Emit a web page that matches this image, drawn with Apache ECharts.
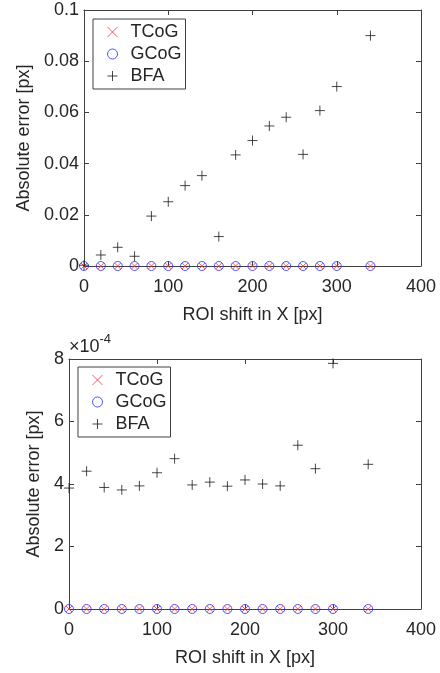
<!DOCTYPE html>
<html>
<head>
<meta charset="UTF-8">
<title></title>
<script src="https://cdn.jsdelivr.net/npm/echarts@6/dist/echarts.min.js"></script>
<style>
  html, body { margin: 0; padding: 0; background: #fff; }
</style>
</head>
<body>
<div id="main" style="width:440px;height:673px;"></div>
<script type="text/javascript">
// ROI shift in X [px]
var shiftX = [0, 20, 40, 60, 80, 100, 120, 140, 160, 180, 200, 220, 240, 260, 280, 300, 340];
// top panel: absolute error [px]
var tcogTop = [0, 0, 0, 0, 0, 0, 0, 0, 0, 0, 0, 0, 0, 0, 0, 0, 0];
var gcogTop = [0, 0, 0, 0, 0, 0, 0, 0, 0, 0, 0, 0, 0, 0, 0, 0, 0];
var bfaTop = [0.0003, 0.0043, 0.0073, 0.0038, 0.0195, 0.0251, 0.0314, 0.0353, 0.0115,
              0.0434, 0.049, 0.0547, 0.0581, 0.0436, 0.0607, 0.0701, 0.09];
// bottom panel: absolute error in units of 1e-4 px
var tcogBot = [0, 0, 0, 0, 0, 0, 0, 0, 0, 0, 0, 0, 0, 0, 0, 0, 0];
var gcogBot = [0, 0, 0, 0, 0, 0, 0, 0, 0, 0, 0, 0, 0, 0, 0, 0, 0];
var bfaBot = [3.87, 4.41, 3.89, 3.81, 3.94, 4.36, 4.81, 3.97, 4.06, 3.93, 4.13, 4.0, 3.94,
              5.24, 4.49, 7.86, 4.63];

var txt = '#262626';
var axc = '#404040';
var fnt = 'Liberation Sans, Arial, sans-serif';

var crossPath = 'path://M0,0L10,10M10,0L0,10';
var plusPath = 'path://M5,0L5,10M0,5L10,5';

function pairs(xs, ys) {
  var out = [];
  for (var i = 0; i < xs.length; i++) out.push([xs[i], ys[i]]);
  return out;
}

function xAxes(grid) {
  return [{
    gridIndex: grid, type: 'value', min: 0, max: 400, interval: 100,
    name: 'ROI shift in X [px]', nameLocation: 'middle', nameGap: 40,
    nameTextStyle: { color: txt, fontSize: 18, fontFamily: fnt },
    axisLine: { onZero: false, lineStyle: { color: axc, width: 1 } },
    axisTick: { inside: true, length: 5, lineStyle: { color: axc } },
    axisLabel: { color: txt, fontSize: 18, fontFamily: fnt, margin: 12 },
    splitLine: { show: false }
  }, {
    gridIndex: grid, type: 'value', min: 0, max: 400, interval: 100, position: 'top',
    axisLine: { onZero: false, lineStyle: { color: axc, width: 1 } },
    axisTick: { inside: true, length: 5, lineStyle: { color: axc } },
    axisLabel: { show: false },
    splitLine: { show: false }
  }];
}

function yAxes(grid, max, step, gap, fmt) {
  return [{
    gridIndex: grid, type: 'value', min: 0, max: max, interval: step,
    name: 'Absolute error [px]', nameLocation: 'middle', nameGap: gap,
    nameTextStyle: { color: txt, fontSize: 18, fontFamily: fnt },
    axisLine: { show: true, onZero: false, lineStyle: { color: axc, width: 1 } },
    axisTick: { show: true, inside: true, length: 5, lineStyle: { color: axc } },
    axisLabel: { color: txt, fontSize: 18, fontFamily: fnt, margin: 5, formatter: fmt },
    splitLine: { show: false }
  }, {
    gridIndex: grid, type: 'value', min: 0, max: max, interval: step, position: 'right',
    axisLine: { show: true, onZero: false, lineStyle: { color: axc, width: 1 } },
    axisTick: { show: true, inside: true, length: 5, lineStyle: { color: axc } },
    axisLabel: { show: false },
    splitLine: { show: false }
  }];
}

function series(axisIdx, t, g, b) {
  return [{
    name: 'TCoG', type: 'scatter', xAxisIndex: axisIdx, yAxisIndex: axisIdx, clip: false,
    symbol: crossPath, symbolSize: 6, z: 4,
    itemStyle: { color: 'none', borderColor: '#ff3030', borderWidth: 1 },
    data: pairs(shiftX, t)
  }, {
    name: 'GCoG', type: 'scatter', xAxisIndex: axisIdx, yAxisIndex: axisIdx, clip: false,
    symbol: 'circle', symbolSize: 9, z: 3,
    itemStyle: { color: 'none', borderColor: '#2a2aff', borderWidth: 1 },
    data: pairs(shiftX, g)
  }, {
    name: 'BFA', type: 'scatter', xAxisIndex: axisIdx, yAxisIndex: axisIdx, clip: false,
    symbol: plusPath, symbolSize: 10, z: 5,
    itemStyle: { color: 'none', borderColor: '#1a1a1a', borderWidth: 1 },
    data: pairs(shiftX, b)
  }];
}

function legendAt(left, top) {
  return {
    orient: 'vertical', left: left, top: top,
    backgroundColor: '#fff', borderColor: axc, borderWidth: 1,
    padding: [4, 4, 4, 12], itemGap: 4, itemWidth: 10, itemHeight: 10,
    textStyle: { color: txt, fontSize: 18, fontFamily: fnt, padding: [0, 0, 0, 8] },
    data: [
      { name: 'TCoG', icon: crossPath, itemStyle: { color: 'none', borderColor: '#ff3030', borderWidth: 1 } },
      { name: 'GCoG', icon: 'circle', itemStyle: { color: 'none', borderColor: '#2a2aff', borderWidth: 1 } },
      { name: 'BFA', icon: plusPath, itemStyle: { color: 'none', borderColor: '#1a1a1a', borderWidth: 1 } }
    ],
    selectedMode: false
  };
}

var myChart = echarts.init(document.getElementById('main'));
// each grid has a pair of x axes (bottom, top) and y axes (left, right) to close the box
var xa = xAxes(0).concat(xAxes(1));
var ya = yAxes(0, 0.1, 0.02, 49, function (v) { return String(+v.toFixed(2)); })
  .concat(yAxes(1, 8, 2, 19, function (v) { return String(Math.round(v)); }));

myChart.setOption({
  animation: false,
  backgroundColor: '#fff',
  grid: [
    { left: 84, right: 19, top: 10, height: 256 },
    { left: 69, right: 19, top: 359, height: 250 }
  ],
  legend: [legendAt(93, 19), legendAt(78, 367)],
  xAxis: xa,
  yAxis: ya,
  series: series(0, tcogTop, gcogTop, bfaTop).concat(series(2, tcogBot, gcogBot, bfaBot)),
  graphic: [{
    type: 'text', left: 69, top: 333,
    style: {
      text: '{a|×10}{b|-4}',
      rich: {
        a: { fontSize: 18, fill: txt, fontFamily: fnt, verticalAlign: 'bottom' },
        b: { fontSize: 13, fill: txt, fontFamily: fnt, verticalAlign: 'top', padding: [0, 0, 10, 0] }
      }
    }
  }]
});
</script>
</body>
</html>
